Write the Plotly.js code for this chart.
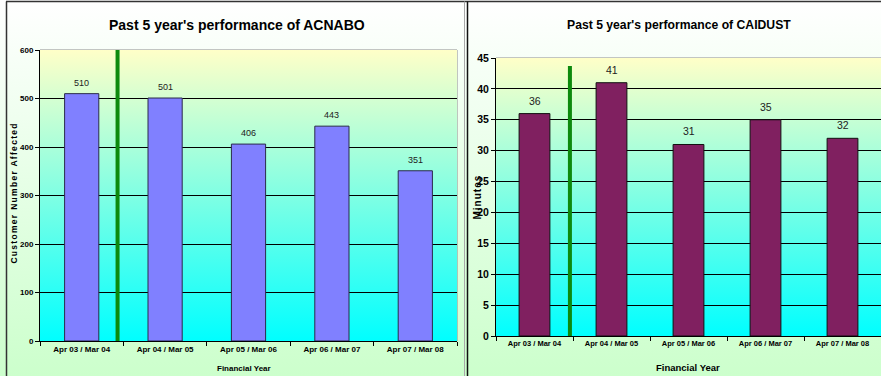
<!DOCTYPE html>
<html>
<head>
<meta charset="utf-8">
<script src="https://cdn.plot.ly/plotly-3.0.1.min.js"></script>
<style>
  html, body { margin: 0; padding: 0; background: #ffffff; }
  #chart { width: 881px; height: 376px; }
  /* spaced-out vertical axis captions */
  #chart .annotation[data-index="14"] text { letter-spacing: 1.3px; }
  #chart .annotation[data-index="15"] text { letter-spacing: 1px; }
</style>
</head>
<body>
<div id="chart"></div>
<script>
// Financial years shared by both panels
const years = ["Apr 03 / Mar 04", "Apr 04 / Mar 05", "Apr 05 / Mar 06", "Apr 06 / Mar 07", "Apr 07 / Mar 08"];
// ACNABO: customers affected per year
const acnabo = [510, 501, 406, 443, 351];
// CAIDUST: minutes per year
const caidust = [36, 41, 31, 35, 32];

const FONT = "Liberation Sans, Arial, sans-serif";

function gradientSvg(top, bottom) {
  const svg = '<svg xmlns="http://www.w3.org/2000/svg" width="100" height="100" viewBox="0 0 100 100" preserveAspectRatio="none">' +
    '<defs><linearGradient id="g" x1="0" y1="0" x2="0" y2="1">' +
    '<stop offset="0" stop-color="' + top + '"/><stop offset="1" stop-color="' + bottom + '"/>' +
    '</linearGradient></defs><rect x="0" y="0" width="100" height="100" fill="url(#g)"/></svg>';
  return 'data:image/svg+xml;charset=utf-8,' + encodeURIComponent(svg);
}

const traces = [
  {
    type: "bar", x: years, y: acnabo, xaxis: "x", yaxis: "y",
    width: 0.41,
    marker: { color: "#8080ff", line: { color: "#2a2a4a", width: 1 } },
    hoverinfo: "x+y"
  },
  {
    type: "bar", x: years, y: caidust, xaxis: "x2", yaxis: "y2",
    width: 0.40,
    marker: { color: "#802060", line: { color: "#111111", width: 1 } },
    hoverinfo: "x+y"
  }
];

// value labels above each bar
const labels = [];
years.forEach((c, i) => {
  labels.push({ x: c, y: acnabo[i], xref: "x", yref: "y", text: String(acnabo[i]),
    showarrow: false, yanchor: "bottom", yshift: 4,
    font: { family: FONT, size: 9, color: "#222222" } });
  labels.push({ x: c, y: caidust[i], xref: "x2", yref: "y2", text: String(caidust[i]),
    showarrow: false, yanchor: "bottom", yshift: 5,
    font: { family: FONT, size: 10.5, color: "#222222" } });
});

const axisCommon = {
  showline: true, linecolor: "#000000", linewidth: 1,
  ticks: "outside", ticklen: 4, tickcolor: "#000000",
  fixedrange: true
};

const layout = {
  width: 881, height: 376,
  margin: { l: 0, r: 0, t: 0, b: 0 },
  paper_bgcolor: "#ffffff",
  plot_bgcolor: "rgba(0,0,0,0)",
  showlegend: false,
  xaxis: Object.assign({}, axisCommon, {
    domain: [40 / 881, 457 / 881], anchor: "y", type: "category",
    tickson: "boundaries", showgrid: false,
    tickfont: { family: FONT, size: 8, weight: "bold", color: "#000" }
  }),
  yaxis: Object.assign({}, axisCommon, {
    domain: [35 / 376, 326 / 376], anchor: "x", range: [0, 600], dtick: 100,
    showgrid: true, gridcolor: "#000000", gridwidth: 1, zeroline: false,
    tickfont: { family: FONT, size: 8, weight: "bold", color: "#000" }
  }),
  xaxis2: Object.assign({}, axisCommon, {
    domain: [496 / 881, 1], anchor: "y2", type: "category",
    tickson: "boundaries", showgrid: false,
    tickfont: { family: FONT, size: 7.5, weight: "bold", color: "#000" }
  }),
  yaxis2: Object.assign({}, axisCommon, {
    domain: [40 / 376, 318 / 376], anchor: "x2", range: [0, 45], dtick: 5,
    showgrid: true, gridcolor: "#000000", gridwidth: 1, zeroline: false,
    tickfont: { family: FONT, size: 10.5, weight: "bold", color: "#000" }
  }),
  images: [
    { source: gradientSvg("#ffffff", "#ccffcc"), xref: "paper", yref: "paper",
      x: 0, y: 1, sizex: 1, sizey: 1, sizing: "stretch", xanchor: "left", yanchor: "top", layer: "below" },
    { source: gradientSvg("#ffffc8", "#00ffff"), xref: "x domain", yref: "y domain",
      x: 0, y: 1, sizex: 1, sizey: 1, sizing: "stretch", xanchor: "left", yanchor: "top", layer: "below" },
    { source: gradientSvg("#ffffc8", "#00ffff"), xref: "x2 domain", yref: "y2 domain",
      x: 0, y: 1, sizex: 1, sizey: 1, sizing: "stretch", xanchor: "left", yanchor: "top", layer: "below" }
  ],
  shapes: [
    // plot area frames
    { type: "rect", xref: "x domain", yref: "y domain", x0: 0, x1: 1, y0: 0, y1: 1,
      line: { color: "#8c8c8c", width: 1 }, layer: "below" },
    { type: "rect", xref: "x2 domain", yref: "y2 domain", x0: 0, x1: 1.01, y0: 0, y1: 1,
      line: { color: "#8c8c8c", width: 1 }, layer: "below" },
    // panel borders
    { type: "line", xref: "paper", yref: "paper", x0: 6.5 / 881, x1: 6.5 / 881, y0: 0, y1: 1 - 1.5 / 376,
      line: { color: "#333333", width: 1.5 } },
    { type: "line", xref: "paper", yref: "paper", x0: 6 / 881, x1: 1, y0: 1 - 1.5 / 376, y1: 1 - 1.5 / 376,
      line: { color: "#333333", width: 1.5 } },
    { type: "line", xref: "paper", yref: "paper", x0: 464.5 / 881, x1: 464.5 / 881, y0: 0, y1: 1 - 1.5 / 376,
      line: { color: "#a8a8a8", width: 1 } },
    { type: "line", xref: "paper", yref: "paper", x0: 467.5 / 881, x1: 467.5 / 881, y0: 0, y1: 1 - 1.5 / 376,
      line: { color: "#111111", width: 1.5 } },
    // green markers between the first two years
    { type: "line", xref: "x", yref: "y", x0: 0.43, x1: 0.43, y0: -10, y1: 600,
      line: { color: "#0d8a0d", width: 4 } },
    { type: "line", xref: "x2", yref: "y2", x0: 0.46, x1: 0.46, y0: -0.3, y1: 43.7,
      line: { color: "#0d8a0d", width: 4 } }
  ],
  annotations: labels.concat([
    { text: "Past 5 year's performance of ACNABO", xref: "paper", yref: "paper",
      x: 237 / 881, y: 1 - 25 / 376, showarrow: false, xanchor: "center", yanchor: "middle",
      font: { family: FONT, size: 14, weight: "bold", color: "#000" } },
    { text: "Past 5 year's performance of CAIDUST", xref: "paper", yref: "paper",
      x: 679 / 881, y: 1 - 25 / 376, showarrow: false, xanchor: "center", yanchor: "middle",
      font: { family: FONT, size: 12.2, weight: "bold", color: "#000" } },
    { text: "Financial Year", xref: "paper", yref: "paper",
      x: 244 / 881, y: 1 - 368 / 376, showarrow: false, xanchor: "center", yanchor: "middle",
      font: { family: FONT, size: 8, weight: "bold", color: "#000" } },
    { text: "Financial Year", xref: "paper", yref: "paper",
      x: 688 / 881, y: 1 - 367 / 376, showarrow: false, xanchor: "center", yanchor: "middle",
      font: { family: FONT, size: 9.5, weight: "bold", color: "#000" } },
    { text: "Customer Number Affected", xref: "paper", yref: "paper", textangle: -90,
      x: 14 / 881, y: 1 - 193 / 376, showarrow: false, xanchor: "center", yanchor: "middle",
      font: { family: FONT, size: 8.5, weight: "bold", color: "#000" } },
    { text: "Minutes", xref: "paper", yref: "paper", textangle: -90,
      x: 477 / 881, y: 1 - 197 / 376, showarrow: false, xanchor: "center", yanchor: "middle",
      font: { family: FONT, size: 10, weight: "bold", color: "#000" } }
  ])
};

Plotly.newPlot("chart", traces, layout, { displayModeBar: false, staticPlot: true });
</script>
</body>
</html>
